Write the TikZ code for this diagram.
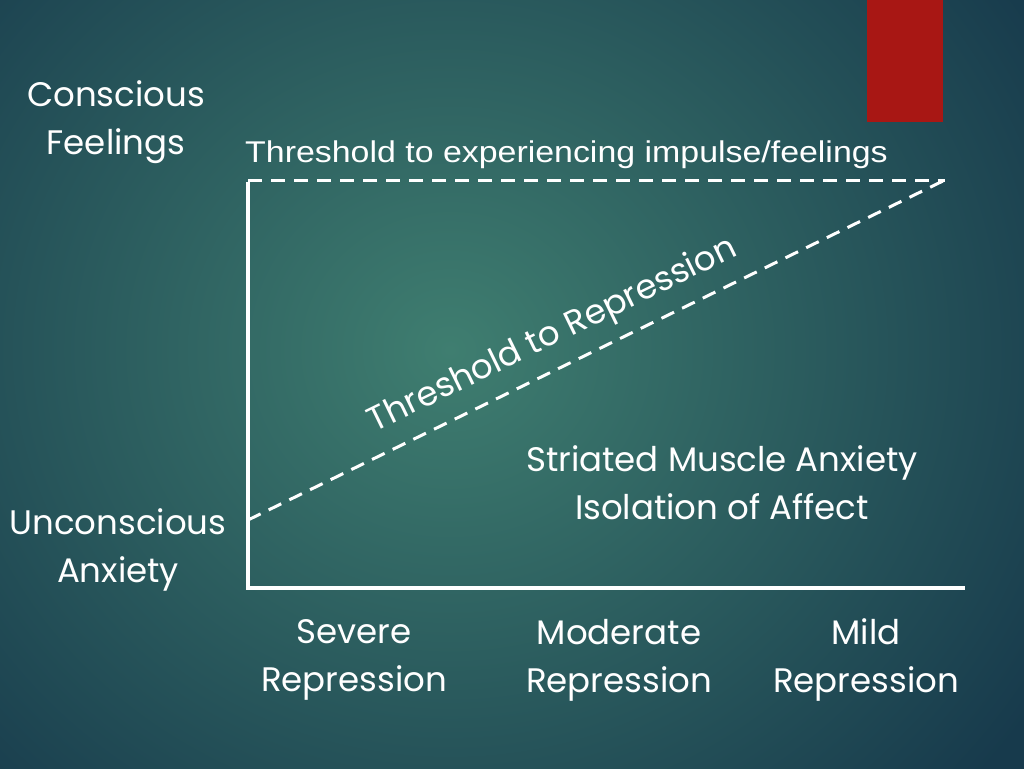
\documentclass[tikz,border=0pt]{standalone}
\usepackage{fontspec}
\setmainfont{Poppins}
\newfontfamily\arialf{Liberation Sans}
\definecolor{bgin}{HTML}{3F7E70}
\definecolor{bgout}{HTML}{173A4C}
\definecolor{redbar}{HTML}{A81714}
\begin{document}
\begin{tikzpicture}[x=1pt,y=-1pt,
  lbl/.style={text=white,font=\fontsize{34}{48}\selectfont,align=center,inner sep=0},
  axis/.style={white,line width=3.5pt},
  dashline/.style={white,line width=3pt,dash pattern=on 14pt off 9pt}]
\useasboundingbox (0,0) rectangle (1024,768);
\shade[inner color=bgin,outer color=bgout] (-250,-300) rectangle (1150,1000);
\fill[redbar] (867,0) rectangle (943,122);
\coordinate (o) at (248,588);
\coordinate (t) at (248,182);
\coordinate (xe) at (965,588);
\coordinate (tl) at (248,180);
\coordinate (tr) at (945,180);
\coordinate (ds) at (248,520);
\draw[axis] (t) -- (o) -- (xe);
\draw[dashline] (tl) -- (tr);
\draw[dashline] (ds) -- (tr);
\node[lbl,rotate=26] (rep) at (553,336) {Threshold to Repression};
\node[lbl] (cf) at (116,122) {Conscious\\Feelings};
\node[text=white,font=\arialf\fontsize{30}{34}\selectfont,anchor=west,inner sep=0,xscale=1.13] (thr) at (245,155) {Threshold to experiencing impulse/feelings};
\node[lbl] (ua) at (118,550) {Unconscious\\Anxiety};
\node[lbl] (sm) at (722,483) {Striated Muscle Anxiety\\Isolation of Affect};
\node[lbl] (sr) at (354,660) {Severe\\Repression};
\node[lbl] (mr) at (619,660) {Moderate\\Repression};
\node[lbl] (mi) at (866,660) {Mild\\Repression};
\end{tikzpicture}
\end{document}
